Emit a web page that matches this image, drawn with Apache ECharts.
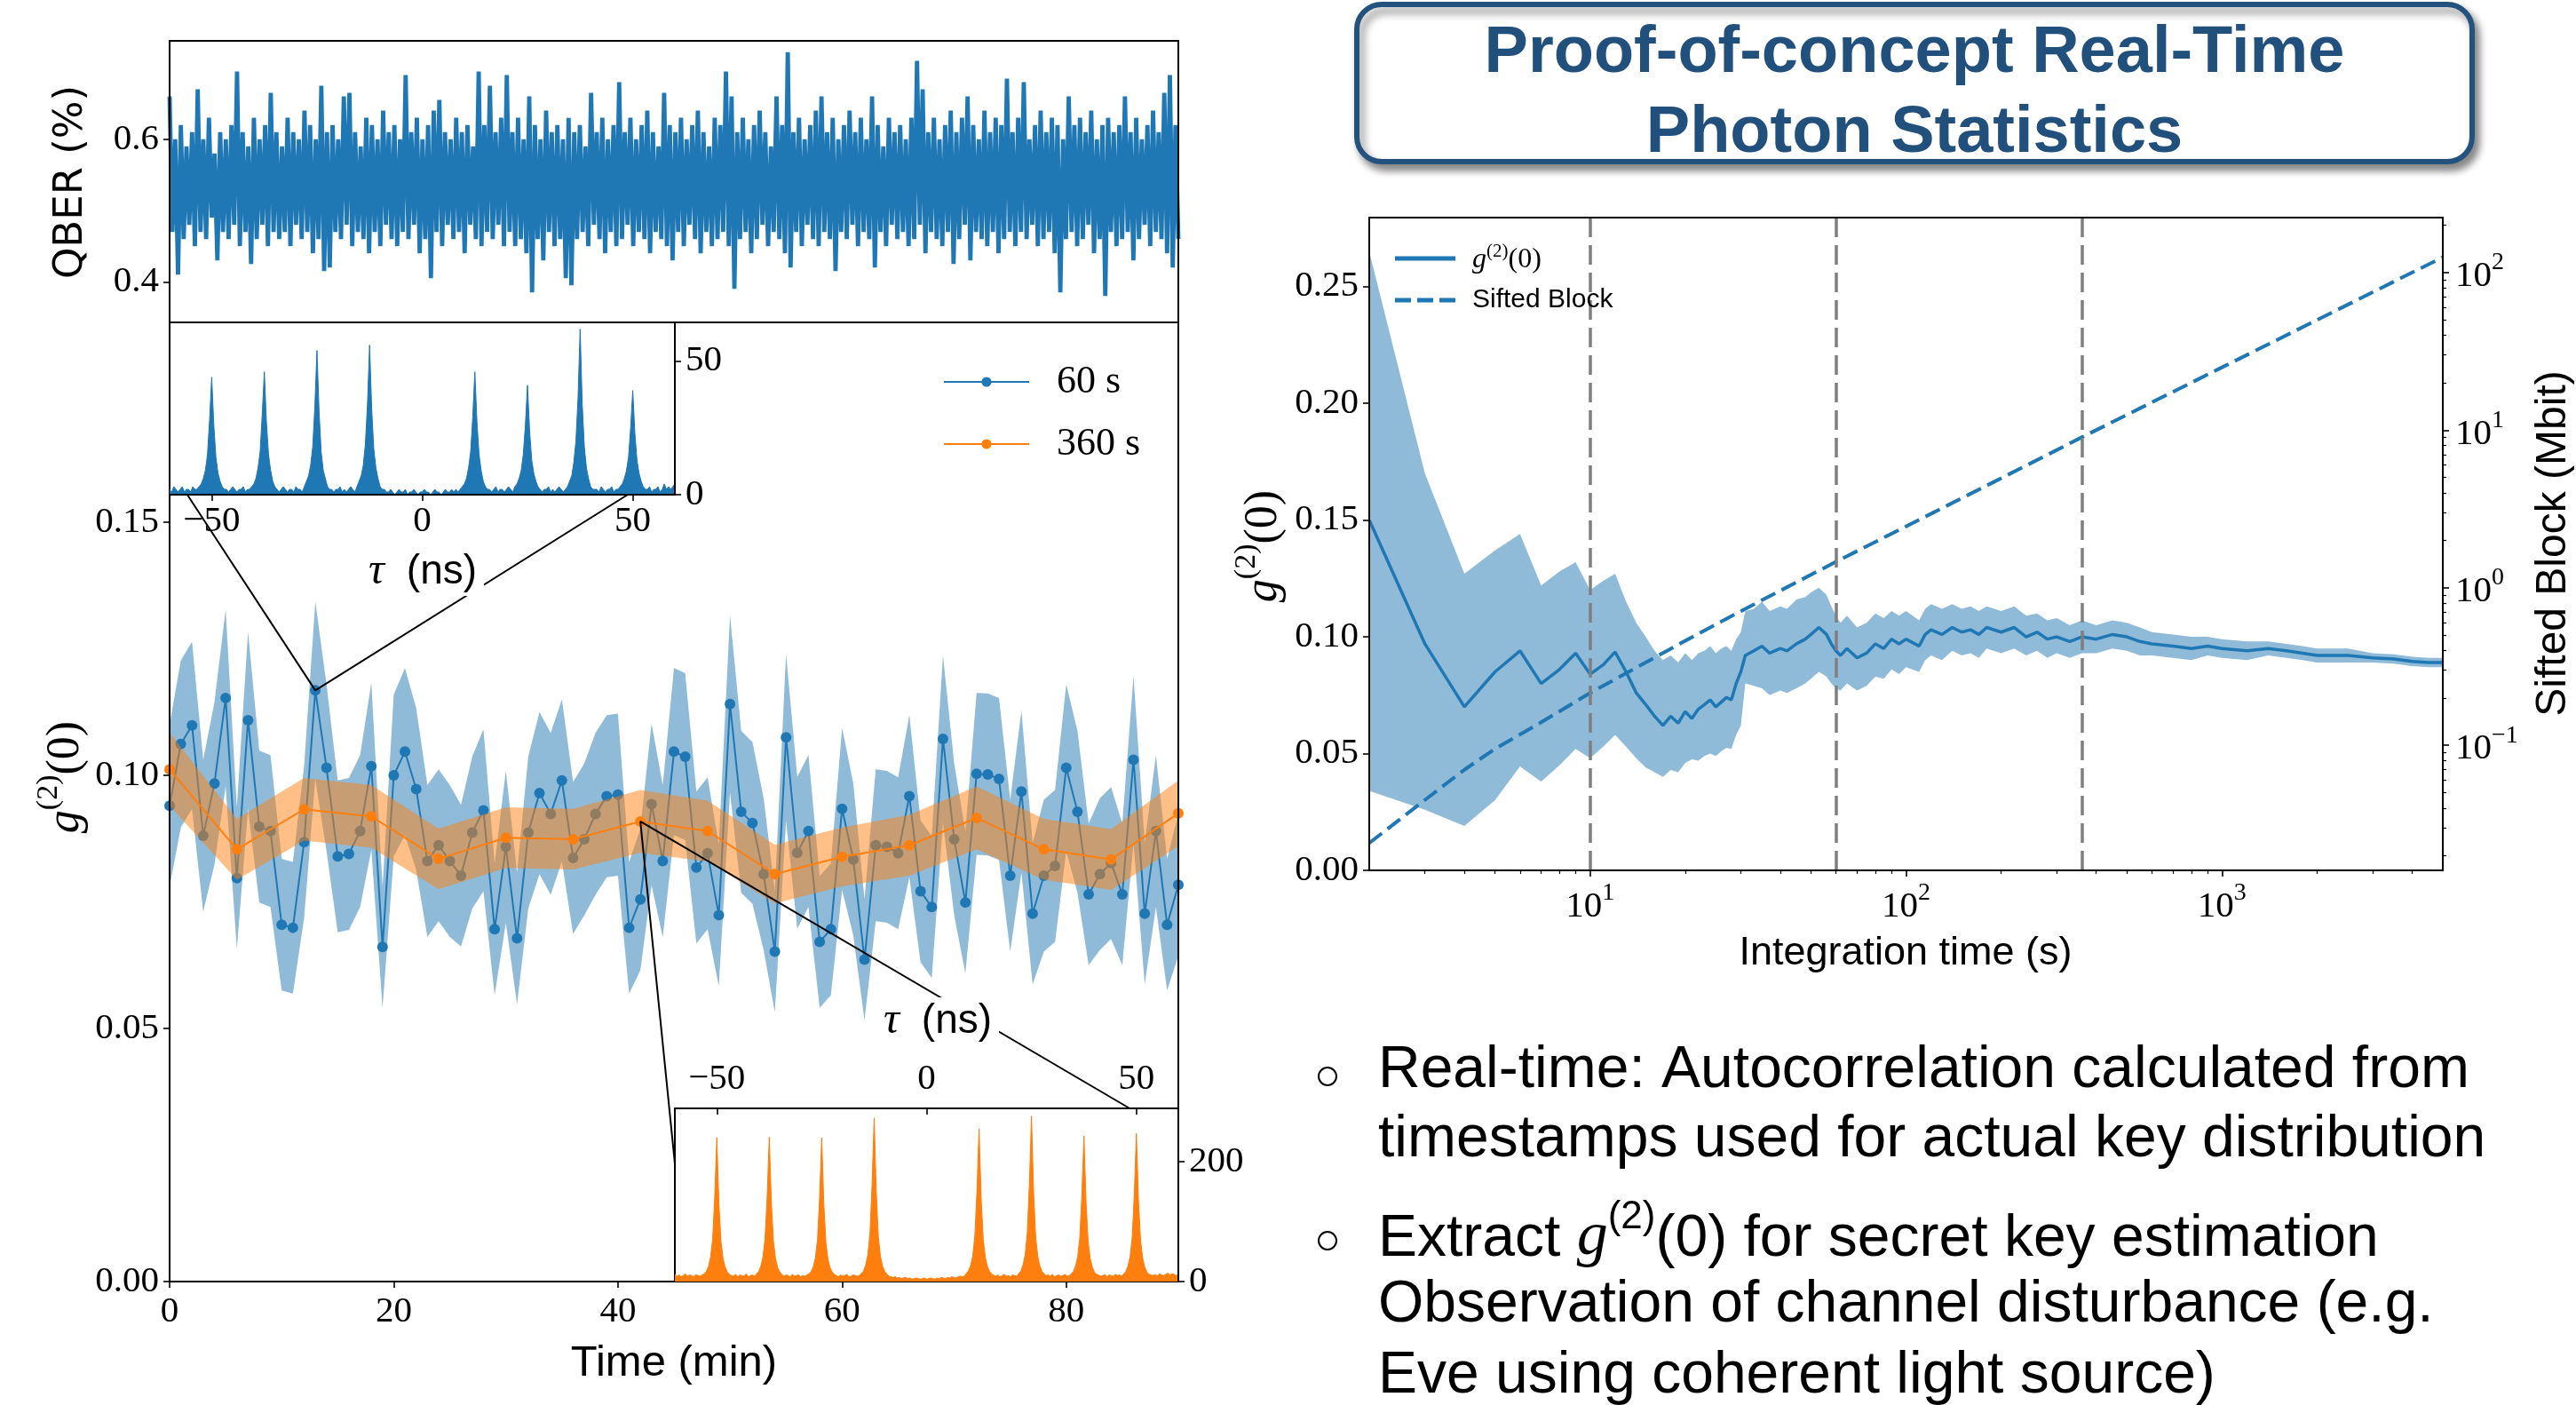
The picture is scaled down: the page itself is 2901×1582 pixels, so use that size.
<!DOCTYPE html>
<html><head><meta charset="utf-8">
<script src="https://cdn.jsdelivr.net/npm/echarts@6/dist/echarts.min.js"></script>
<style>html,body{margin:0;padding:0;background:#fff;}#c{width:2901px;height:1582px;}</style>
</head><body><div id="c"></div>
<script>
// ---------------- DATA ----------------
const qberValues = [
0.66,0.47,0.60,0.41,0.62,0.46,0.59,0.48,0.61,0.45,0.67,0.47,0.60,0.46,0.63,0.49,0.58,0.43,0.61,0.47,
0.60,0.46,0.62,0.48,0.695,0.45,0.61,0.47,0.59,0.425,0.63,0.46,0.60,0.48,0.62,0.45,0.665,0.47,0.61,0.46,
0.59,0.47,0.63,0.45,0.61,0.48,0.60,0.46,0.64,0.47,0.62,0.44,0.60,0.46,0.675,0.415,0.61,0.42,0.62,0.47,
0.60,0.46,0.66,0.48,0.665,0.45,0.61,0.47,0.59,0.46,0.63,0.44,0.62,0.47,0.60,0.45,0.64,0.48,0.61,0.46,
0.62,0.45,0.60,0.47,0.69,0.46,0.61,0.48,0.63,0.44,0.60,0.46,0.62,0.405,0.64,0.47,0.655,0.45,0.61,0.48,
0.60,0.46,0.63,0.47,0.61,0.44,0.62,0.48,0.59,0.46,0.695,0.45,0.62,0.47,0.675,0.46,0.61,0.48,0.63,0.45,
0.69,0.47,0.61,0.45,0.63,0.46,0.60,0.44,0.66,0.385,0.62,0.46,0.60,0.43,0.64,0.47,0.61,0.45,0.62,0.46,
0.60,0.405,0.63,0.395,0.61,0.46,0.62,0.47,0.59,0.45,0.665,0.48,0.61,0.46,0.63,0.44,0.60,0.47,0.62,0.45,
0.68,0.46,0.61,0.48,0.63,0.45,0.60,0.47,0.62,0.46,0.64,0.44,0.61,0.47,0.59,0.46,0.665,0.45,0.62,0.43,
0.61,0.47,0.63,0.45,0.60,0.48,0.62,0.46,0.64,0.44,0.61,0.47,0.59,0.45,0.63,0.46,0.62,0.47,0.695,0.45,
0.66,0.39,0.61,0.46,0.63,0.47,0.60,0.44,0.62,0.46,0.64,0.48,0.61,0.45,0.59,0.47,0.66,0.46,0.62,0.44,
0.722,0.42,0.61,0.47,0.63,0.45,0.60,0.48,0.62,0.46,0.64,0.45,0.66,0.47,0.61,0.46,0.63,0.415,0.60,0.47,
0.62,0.46,0.64,0.48,0.61,0.45,0.63,0.47,0.60,0.46,0.66,0.42,0.62,0.47,0.59,0.45,0.63,0.48,0.61,0.46,
0.62,0.47,0.60,0.45,0.63,0.46,0.71,0.48,0.67,0.44,0.61,0.47,0.63,0.46,0.60,0.45,0.62,0.47,0.64,0.425,
0.61,0.46,0.63,0.48,0.66,0.43,0.62,0.47,0.60,0.46,0.64,0.45,0.61,0.47,0.63,0.44,0.62,0.46,0.685,0.47,
0.61,0.45,0.63,0.47,0.68,0.46,0.60,0.48,0.62,0.45,0.64,0.46,0.61,0.47,0.63,0.44,0.62,0.385,0.60,0.46,
0.66,0.47,0.62,0.45,0.63,0.46,0.61,0.48,0.64,0.44,0.60,0.46,0.62,0.38,0.63,0.47,0.61,0.45,0.62,0.46,
0.66,0.47,0.61,0.43,0.63,0.46,0.60,0.48,0.62,0.45,0.64,0.47,0.61,0.46,0.665,0.44,0.69,0.42,0.62,0.46
];

const time60 = [0,1,2,3,4,5,6,7,8,9,10,11,12,13,14,15,16,17,18,19,20,21,22,23,24,25,26,27,28,29,30,
31,32,33,34,35,36,37,38,39,40,41,42,43,44,45,46,47,48,49,50,51,52,53,54,55,56,57,58,59,60,
61,62,63,64,65,66,67,68,69,70,71,72,73,74,75,76,77,78,79,80,81,82,83,84,85,86,87,88,89,90];
const g2_60 = [0.0940,0.1062,0.1099,0.0881,0.0984,0.1153,0.0797,0.1109,0.0899,0.0890,
0.0705,0.0699,0.0868,0.1168,0.1015,0.0840,0.0845,0.0890,0.1018,0.0661,
0.1000,0.1047,0.0973,0.0831,0.0862,0.0831,0.0802,0.0887,0.0931,0.0696,
0.0859,0.0678,0.0887,0.0965,0.0924,0.0990,0.0837,0.0874,0.0924,0.0959,
0.0962,0.0699,0.0755,0.0943,0.0831,0.1047,0.1037,0.0818,0.0846,0.0724,
0.1141,0.0928,0.0906,0.0805,0.0652,0.1075,0.0847,0.0890,0.0671,0.0696,
0.0934,0.0834,0.0636,0.0862,0.0859,0.0846,0.0959,0.0771,0.0740,0.1072,
0.0874,0.0749,0.1003,0.1002,0.0993,0.0802,0.0968,0.0727,0.0802,0.0821,
0.1015,0.0928,0.0765,0.0805,0.0827,0.0765,0.1031,0.0727,0.0890,0.0705,0.0784];
const g2_60_err = [0.016,0.0165,0.0165,0.015,0.016,0.0175,0.014,0.0175,0.015,0.015,
0.013,0.013,0.015,0.0175,0.0165,0.015,0.015,0.015,0.0165,0.012,
0.016,0.0165,0.016,0.015,0.015,0.015,0.014,0.015,0.016,0.013,
0.015,0.013,0.015,0.016,0.016,0.016,0.015,0.015,0.016,0.016,
0.016,0.013,0.014,0.016,0.015,0.0165,0.0165,0.015,0.015,0.014,
0.0175,0.016,0.016,0.015,0.012,0.0165,0.015,0.015,0.013,0.013,
0.016,0.015,0.012,0.015,0.015,0.015,0.016,0.014,0.014,0.0165,
0.015,0.014,0.016,0.016,0.016,0.015,0.016,0.014,0.015,0.015,
0.0165,0.016,0.014,0.015,0.015,0.014,0.0165,0.014,0.015,0.013,0.014];

const time360 = [0,6,12,18,24,30,36,42,48,54,60,66,72,78,84,90];
const g2_360 = [0.1012,0.0854,0.0933,0.0919,0.0835,0.0877,0.0874,0.0909,0.0890,0.0805,0.0839,0.0862,0.0916,0.0854,0.0834,0.0925];
const g2_360_err = [0.0072,0.006,0.0062,0.0062,0.006,0.006,0.006,0.0062,0.006,0.0058,0.0058,0.006,0.0062,0.006,0.006,0.0065];

// coincidence histograms, 0.5 ns bins starting at -60 ns
const tauStart = -60, tauStep = 0.5;
const hist60 = [
2,1,3,2,1,2,3,1,2,2,1,3,2,2,
3,4,6,9,15,28,44,26,14,8,5,3,2,
2,1,2,3,2,1,2,2,3,1,2,2,
3,4,6,10,16,30,46,27,15,9,5,3,2,
1,2,3,2,1,2,2,1,3,2,2,1,
3,5,7,11,18,33,54,31,16,9,6,3,2,
2,1,2,2,3,1,2,1,2,3,2,1,
3,5,7,11,19,34,56,32,17,10,6,3,2,
2,1,1,2,1,0,1,2,1,1,2,0,1,1,2,1,0,1,1,2,1,1,0,1,2,1,1,0,1,2,1,1,2,1,2,1,2,
3,4,6,10,16,29,46,27,15,9,5,3,2,
2,1,2,3,1,2,2,1,2,3,2,1,
3,4,6,9,15,26,41,24,13,8,5,3,2,
1,2,2,3,1,2,1,2,3,2,1,2,
3,5,7,12,20,36,62,34,18,10,6,3,2,
2,2,1,3,2,1,2,2,3,1,2,2,
3,4,6,9,14,25,39,23,13,8,5,3,2,
2,3,1,2,2,3,1,2,4,2,3,2,3,4];
const hist360 = [
12,9,11,8,10,13,9,11,10,8,12,10,9,11,
13,17,25,40,70,140,240,130,66,38,24,16,12,
10,9,12,8,11,10,9,13,8,10,11,9,
13,17,26,41,72,142,241,132,67,38,23,16,12,
9,11,10,8,12,9,10,11,8,10,9,11,
13,17,25,40,70,140,240,130,65,37,23,16,12,
10,8,11,9,10,12,8,9,11,10,9,10,
14,18,28,45,80,160,273,150,75,42,26,17,13,
9,8,7,8,6,7,5,6,7,5,6,4,5,6,5,4,5,6,4,5,6,5,4,6,5,7,6,5,7,6,8,7,6,8,9,8,9,
14,18,27,43,76,150,255,140,70,40,25,17,13,
10,9,11,8,10,12,9,10,8,11,10,9,
14,18,28,45,81,162,276,150,74,42,26,17,13,
10,11,9,12,8,10,11,9,10,12,9,10,
13,17,26,41,72,143,243,133,67,38,24,16,12,
11,9,10,12,8,11,10,9,12,10,11,9,
13,17,26,41,73,145,247,135,68,39,24,16,12,
11,10,12,9,13,11,10,12,14,11,13,12,10,13];

// right panel: g2 vs integration time
const intTime = [2,3,4,5,6,7,8,9,10,11,12,13,14,15,16,17,18,19,20,21,22,23,24,25,26,27,28,29,30,31,
33,35,37,40,42,45,48,50,53,56,58,60,62,65,70,75,80,85,90,95,100,
110,115,120,130,140,150,160,170,180,200,220,240,260,280,300,330,360,
400,450,500,550,600,700,800,900,1000,
1200,1400,1600,1800,2000,2500,3000,3500,4000,4500,5000];
const g2Mean = [0.150,0.097,0.070,0.085,0.094,0.080,0.086,0.093,0.084,0.088,0.0935,0.085,0.076,0.071,0.066,0.062,0.066,0.063,0.068,0.065,0.069,0.071,0.073,0.070,0.072,0.074,0.073,0.080,0.085,0.092,
0.094,0.096,0.093,0.095,0.094,0.097,0.099,0.101,0.104,0.101,0.097,0.094,0.092,0.095,0.091,0.093,0.097,0.095,0.099,0.097,0.099,
0.096,0.101,0.103,0.101,0.104,0.102,0.103,0.101,0.104,0.102,0.104,0.100,0.102,0.099,0.100,0.098,0.100,
0.099,0.101,0.100,0.098,0.097,0.096,0.095,0.096,0.095,
0.094,0.095,0.094,0.093,0.092,0.092,0.091,0.0905,0.0895,0.089,0.089];
const g2High = [0.265,0.170,0.127,0.137,0.144,0.122,0.128,0.132,0.120,0.124,0.127,0.115,0.106,0.100,0.094,0.090,0.092,0.089,0.093,0.090,0.093,0.094,0.096,0.093,0.095,0.096,0.094,0.099,0.102,0.111,
0.112,0.115,0.111,0.113,0.112,0.116,0.117,0.119,0.121,0.118,0.113,0.109,0.106,0.109,0.104,0.106,0.110,0.108,0.111,0.109,0.111,
0.107,0.112,0.114,0.112,0.114,0.112,0.113,0.111,0.113,0.111,0.113,0.109,0.110,0.107,0.108,0.105,0.107,
0.105,0.107,0.106,0.104,0.102,0.101,0.100,0.100,0.099,
0.098,0.098,0.097,0.096,0.095,0.095,0.093,0.0925,0.0915,0.091,0.091];
const g2Low = [0.034,0.026,0.019,0.030,0.0445,0.038,0.045,0.052,0.048,0.053,0.058,0.053,0.048,0.044,0.042,0.040,0.043,0.042,0.046,0.0475,0.047,0.049,0.050,0.049,0.051,0.0525,0.052,0.058,0.062,0.080,
0.079,0.078,0.075,0.077,0.076,0.078,0.080,0.082,0.085,0.083,0.080,0.078,0.077,0.080,0.077,0.079,0.083,0.082,0.086,0.084,0.087,
0.085,0.090,0.092,0.090,0.094,0.092,0.093,0.091,0.095,0.093,0.095,0.092,0.094,0.091,0.093,0.091,0.093,
0.093,0.095,0.094,0.092,0.092,0.091,0.090,0.092,0.091,
0.090,0.092,0.091,0.090,0.089,0.089,0.089,0.0885,0.0875,0.087,0.087];
const siftTime = [2,3,4,5,7,10,20,30,60,100,200,360,1000,2000,5000];
const siftBlock = [0.024,0.045,0.07,0.095,0.14,0.215,0.46,0.71,1.46,2.45,4.95,9.0,25,50,125];
const markerTimes = [10,60,360];

// tick values
const qberTicks = [0.4,0.6];
const timeTicks = [0,20,40,60,80];
const g2Ticks = [0,0.05,0.10,0.15];
const tauTicks = [-50,0,50];
const hist60Ticks = [0,50];
const hist360Ticks = [0,200];
const intTicks = [10,100,1000];
const intMinorTicks = [3,4,5,6,7,8,9,20,30,40,50,60,70,80,90,200,300,400,500,600,700,800,900,2000,3000,4000];
const g2RightTicks = [0,0.05,0.10,0.15,0.20,0.25];
const siftTicks = [0.1,1,10,100];
const siftMinorTicks = [0.02,0.03,0.04,0.05,0.06,0.07,0.08,0.09,0.2,0.3,0.4,0.5,0.6,0.7,0.8,0.9,2,3,4,5,6,7,8,9,20,30,40,50,60,70,80,90,200];

// ---------------- CHART ----------------
const SERIF = "'Liberation Serif','DejaVu Serif',serif";
const SANS = "'Liberation Sans','DejaVu Sans',sans-serif";
const BLUE = '#1f77b4', ORANGE = '#ff7f0e';
const chart = echarts.init(document.getElementById('c'), null, {width:2901, height:1582});

const tickFont = {fontFamily: SERIF, fontSize: 41, color: '#000'};
const minus = v => (v < 0 ? '\u2212' + Math.abs(v) : String(v));
const tickStyle = (vals, inside) => ({show:true, length:7, inside: !!inside, customValues: vals, lineStyle:{color:'#000', width:1.6}});
const powRich = {
  b:{fontFamily:SERIF, fontSize:41, lineHeight:50, verticalAlign:'bottom', color:'#000'},
  e:{fontFamily:SERIF, fontSize:28, lineHeight:30, verticalAlign:'top', color:'#000'}
};
const powFmt = v => { const e = Math.round(Math.log10(v)); return '{b|10}{e|' + (e < 0 ? '\u2212' + (-e) : e) + '}'; };
const axLine = {show:true, onZero:false, lineStyle:{color:'#000', width:2}};

function band(xs, lo, hi, xi, yi, color, z) {
  return {
    type:'custom', xAxisIndex:xi, yAxisIndex:yi, z:z, silent:true, clip:true,
    data:[[xs[0], lo[0]]],
    renderItem:(params, api) => {
      const pts = [];
      for (let i = 0; i < xs.length; i++) pts.push(api.coord([xs[i], hi[i]]));
      for (let i = xs.length - 1; i >= 0; i--) pts.push(api.coord([xs[i], lo[i]]));
      return {type:'polygon', shape:{points:pts}, style:{fill:color}};
    }
  };
}
const lo60 = g2_60.map((v,i)=>v - g2_60_err[i]), hi60 = g2_60.map((v,i)=>v + g2_60_err[i]);
const lo360 = g2_360.map((v,i)=>v - g2_360_err[i]), hi360 = g2_360.map((v,i)=>v + g2_360_err[i]);

const option = {
  animation:false,
  backgroundColor:'#fff',
  grid:[
    {left:191, top:46, width:1136, height:317, show:true, borderColor:'#000', borderWidth:2, backgroundColor:'transparent', z:10},
    {left:191, top:363, width:1136, height:1080, show:true, borderColor:'#000', borderWidth:2, backgroundColor:'transparent', z:10},
    {left:191, top:363, width:569, height:194, show:true, borderColor:'#000', borderWidth:2, backgroundColor:'#fff', z:12},
    {left:760, top:1248, width:567, height:195, show:true, borderColor:'#000', borderWidth:2, backgroundColor:'#fff', z:12},
    {left:1542, top:245, width:1209, height:735, show:true, borderColor:'#000', borderWidth:2, backgroundColor:'transparent', z:10}
  ],
  xAxis:[
    {gridIndex:0, type:'category', data:qberValues.map((_,i)=>i), boundaryGap:false, show:false},
    {gridIndex:1, type:'value', min:0, max:90, z:10, axisLine:{show:false}, splitLine:{show:false},
     axisTick:tickStyle(timeTicks), axisLabel:Object.assign({customValues:timeTicks, margin:14}, tickFont)},
    {gridIndex:2, type:'value', min:-60, max:60, z:16, position:'bottom', splitLine:{show:false},
     axisLine:axLine, axisTick:tickStyle(tauTicks), axisLabel:Object.assign({customValues:tauTicks, margin:10, formatter:minus}, tickFont)},
    {gridIndex:3, type:'value', min:-60, max:60, z:16, position:'top', splitLine:{show:false},
     axisLine:axLine, axisTick:tickStyle(tauTicks, true), axisLabel:Object.assign({customValues:tauTicks, margin:12, formatter:minus}, tickFont)},
    {gridIndex:4, type:'log', logBase:10, min:2, max:5000, z:10, axisLine:{show:false}, splitLine:{show:false},
     axisTick:tickStyle(intTicks), axisLabel:{customValues:intTicks, margin:12, formatter:powFmt, rich:powRich}},
    {gridIndex:4, type:'log', logBase:10, min:2, max:5000, z:10, position:'bottom', axisLine:{show:false}, splitLine:{show:false},
     axisTick:{show:true, length:4, customValues:intMinorTicks, lineStyle:{color:'#000', width:1.2}}, axisLabel:{show:false}}
  ],
  yAxis:[
    {gridIndex:0, type:'value', min:0.343, max:0.738, z:10, axisLine:{show:false}, splitLine:{show:false},
     axisTick:tickStyle(qberTicks), axisLabel:Object.assign({customValues:qberTicks, margin:12, formatter:v=>v.toFixed(1)}, tickFont)},
    {gridIndex:1, type:'value', min:0, max:0.1895, z:10, axisLine:{show:false}, splitLine:{show:false},
     axisTick:tickStyle(g2Ticks), axisLabel:Object.assign({customValues:g2Ticks, margin:12, formatter:v=>v.toFixed(2)}, tickFont)},
    {gridIndex:2, type:'value', min:0, max:64.5, z:16, position:'right', splitLine:{show:false},
     axisLine:axLine, axisTick:tickStyle(hist60Ticks), axisLabel:Object.assign({customValues:hist60Ticks, margin:12}, tickFont)},
    {gridIndex:3, type:'value', min:0, max:289, z:16, position:'right', splitLine:{show:false},
     axisLine:axLine, axisTick:tickStyle(hist360Ticks), axisLabel:Object.assign({customValues:hist360Ticks, margin:12}, tickFont)},
    {gridIndex:4, type:'value', min:0, max:0.2795, z:10, position:'left', axisLine:{show:false}, splitLine:{show:false},
     axisTick:tickStyle(g2RightTicks), axisLabel:Object.assign({customValues:g2RightTicks, margin:12, formatter:v=>v.toFixed(2)}, tickFont)},
    {gridIndex:4, type:'log', logBase:10, min:0.0161, max:223, z:10, position:'right', axisLine:{show:false}, splitLine:{show:false},
     axisTick:tickStyle(siftTicks), axisLabel:{customValues:siftTicks, margin:14, formatter:powFmt, rich:powRich}},
    {gridIndex:4, type:'log', logBase:10, min:0.0161, max:223, z:10, position:'right', axisLine:{show:false}, splitLine:{show:false},
     axisTick:{show:true, length:4, customValues:siftMinorTicks, lineStyle:{color:'#000', width:1.2}}, axisLabel:{show:false}}
  ],
  legend:[
    {data:['60 s','360 s'], orient:'vertical', left:1057, top:400, itemWidth:96, itemHeight:14, itemGap:20, z:20,
     textStyle:{fontFamily:SERIF, fontSize:44, color:'#000', lineHeight:50, padding:[0,0,0,26]}},
    {data:[{name:'g2', icon:'path://M0,0h68v5h-68z'}, {name:'Sifted Block', icon:'path://M0,0h18v5h-18z M25,0h18v5h-18z M50,0h18v5h-18z'}],
     orient:'vertical', left:1566, top:268, itemWidth:68, itemHeight:5, itemGap:14, z:20,
     formatter: n => n === 'g2' ? '{g|g}{s|(2)}{n|(0)}' : '{sb|Sifted Block}',
     textStyle:{color:'#000', padding:[0,0,0,14], rich:{
       g:{fontFamily:SERIF, fontStyle:'italic', fontSize:32, lineHeight:36, verticalAlign:'bottom'},
       s:{fontFamily:SERIF, fontSize:21, lineHeight:22, verticalAlign:'top'},
       n:{fontFamily:SERIF, fontSize:32, lineHeight:36, verticalAlign:'bottom'},
       sb:{fontFamily:SANS, fontSize:30, lineHeight:36}}}}
  ],
  series:[
    {type:'line', xAxisIndex:0, yAxisIndex:0, data:qberValues, showSymbol:false, symbol:'none', z:2,
     lineStyle:{color:BLUE, width:4.8, join:'miter'}, itemStyle:{color:BLUE}},
    band(time60, lo60, hi60, 1, 1, 'rgba(31,119,180,0.5)', 1),
    {name:'60 s', type:'line', xAxisIndex:1, yAxisIndex:1, data:time60.map((t,i)=>[t, g2_60[i]]), z:2,
     symbol:'circle', symbolSize:12, lineStyle:{color:BLUE, width:2}, itemStyle:{color:BLUE}},
    band(time360, lo360, hi360, 1, 1, 'rgba(255,127,14,0.5)', 3),
    {name:'360 s', type:'line', xAxisIndex:1, yAxisIndex:1, data:time360.map((t,i)=>[t, g2_360[i]]), z:4,
     symbol:'circle', symbolSize:12, lineStyle:{color:ORANGE, width:2}, itemStyle:{color:ORANGE}},
    {type:'line', xAxisIndex:2, yAxisIndex:2, z:14, symbol:'none', data:hist60.map((c,i)=>[tauStart + i*tauStep, c]),
     lineStyle:{color:BLUE, width:1}, areaStyle:{color:BLUE, opacity:1}},
    {type:'line', xAxisIndex:3, yAxisIndex:3, z:14, symbol:'none', data:hist360.map((c,i)=>[tauStart + i*tauStep, c]),
     lineStyle:{color:ORANGE, width:1}, areaStyle:{color:ORANGE, opacity:1}},
    band(intTime, g2Low, g2High, 4, 4, 'rgba(31,119,180,0.5)', 2),
    {name:'g2', type:'line', xAxisIndex:4, yAxisIndex:4, z:3, symbol:'none', data:intTime.map((t,i)=>[t, g2Mean[i]]),
     lineStyle:{color:BLUE, width:3.5}, itemStyle:{color:BLUE},
     markLine:{silent:true, symbol:'none', label:{show:false}, lineStyle:{color:'#7f7f7f', type:[22,9], width:3.5},
       data:markerTimes.map(v=>({xAxis:v}))}},
    {name:'Sifted Block', type:'line', xAxisIndex:4, yAxisIndex:5, z:3, symbol:'none', data:siftTime.map((t,i)=>[t, siftBlock[i]]),
     lineStyle:{color:BLUE, width:4, type:[18,8]}, itemStyle:{color:BLUE}}
  ]
};
chart.setOption(option);

// ---------------- ANNOTATIONS ----------------
const gRich = (fs, sfs) => ({
  g:{fontFamily:SERIF, fontStyle:'italic', fontSize:fs, lineHeight:fs+10, verticalAlign:'bottom', color:'#000'},
  s:{fontFamily:SERIF, fontSize:sfs, lineHeight:sfs+2, verticalAlign:'top', color:'#000'},
  n:{fontFamily:SERIF, fontSize:fs, lineHeight:fs+10, verticalAlign:'bottom', color:'#000'}
});
const tauRich = {
  t:{fontFamily:SERIF, fontStyle:'italic', fontSize:50, color:'#000'},
  n:{fontFamily:SANS, fontSize:46, color:'#000'}
};
const pA = chart.convertToPixel({gridIndex:1}, [time60[13], g2_60[13]]);
const pL = chart.convertToPixel({gridIndex:2}, [-55.8, 0]);
const pR = chart.convertToPixel({gridIndex:2}, [48.8, 0]);
const pB = chart.convertToPixel({gridIndex:1}, [time360[7], g2_360[7]]);
const pBL = chart.convertToPixel({gridIndex:3}, [-60, 197]);
const pBR = chart.convertToPixel({gridIndex:3}, [48.4, 289]);
const ln = (a, b) => ({type:'line', z:11, shape:{x1:a[0], y1:a[1], x2:b[0], y2:b[1]}, style:{stroke:'#000', lineWidth:2}});

const graphics = [
  ln(pA, pL), ln(pA, pR), ln(pB, pBL), ln(pB, pBR),
  {type:'text', z:18, x:476, y:644, style:{text:'{t|\u03c4\u2002}{n|(ns)}', rich:tauRich, align:'center', verticalAlign:'middle', backgroundColor:'#fff', padding:[2,8]}},
  {type:'text', z:18, x:1056, y:1150, style:{text:'{t|\u03c4\u2002}{n|(ns)}', rich:tauRich, align:'center', verticalAlign:'middle', backgroundColor:'#fff', padding:[2,8]}},
  // axis titles
  {type:'text', z:18, x:80, y:205, rotation:Math.PI/2, style:{text:'QBER (%)', font:"45px 'DejaVu Sans'", fill:'#000', align:'center', verticalAlign:'middle'}},
  {type:'text', z:18, x:69, y:875, rotation:Math.PI/2, style:{text:'{g|g}{s|(2)}{n|(0)}', rich:gRich(52,34), align:'center', verticalAlign:'middle'}},
  {type:'text', z:18, x:759, y:1535, style:{text:'Time (min)', font:"49px 'Liberation Sans'", fill:'#000', align:'center', verticalAlign:'middle'}},
  {type:'text', z:18, x:1418, y:615, rotation:Math.PI/2, style:{text:'{g|g}{s|(2)}{n|(0)}', rich:gRich(52,34), align:'center', verticalAlign:'middle'}},
  {type:'text', z:18, x:2146, y:1074, style:{text:'Integration time (s)', font:"45px 'Liberation Sans'", fill:'#000', align:'center', verticalAlign:'middle'}},
  {type:'text', z:18, x:2876, y:612, rotation:Math.PI/2, style:{text:'Sifted Block (Mbit)', font:"48px 'Liberation Sans'", fill:'#000', align:'center', verticalAlign:'middle'}},
  // title box
  {type:'rect', z:20, shape:{x:1528, y:5, width:1256, height:177, r:28},
   style:{fill:'#fff', stroke:'#24527f', lineWidth:6, shadowBlur:10, shadowOffsetX:5, shadowOffsetY:7, shadowColor:'rgba(0,0,0,0.45)'}},
  {type:'text', z:21, x:2156, y:61, style:{text:'Proof-of-concept Real-Time', font:"bold 74px 'Liberation Sans'", fill:'#21507c', align:'center', verticalAlign:'middle'}},
  {type:'text', z:21, x:2156, y:151, style:{text:'Photon Statistics', font:"bold 74px 'Liberation Sans'", fill:'#21507c', align:'center', verticalAlign:'middle'}},
  // bullets
  {type:'circle', z:20, shape:{cx:1495, cy:1212, r:10}, style:{fill:'none', stroke:'#000', lineWidth:2}},
  {type:'circle', z:20, shape:{cx:1495, cy:1397, r:10}, style:{fill:'none', stroke:'#000', lineWidth:2}},
  {type:'text', z:20, x:1552, y:1206, style:{text:'Real-time: Autocorrelation calculated from', font:"66px 'Liberation Sans'", fill:'#000', verticalAlign:'middle'}},
  {type:'text', z:20, x:1552, y:1284, style:{text:'timestamps used for actual key distribution', font:"66px 'Liberation Sans'", fill:'#000', verticalAlign:'middle'}},
  {type:'text', z:20, x:1552, y:1389, style:{text:'{t|Extract }{g|g}{s|(2)}{t|(0) for secret key estimation}', verticalAlign:'middle',
    rich:{t:{fontFamily:SANS, fontSize:66, lineHeight:80, verticalAlign:'bottom', color:'#000'},
          g:{fontFamily:SERIF, fontStyle:'italic', fontSize:70, lineHeight:80, verticalAlign:'bottom', color:'#000'},
          s:{fontFamily:SANS, fontSize:44, lineHeight:48, verticalAlign:'top', color:'#000'}}}},
  {type:'text', z:20, x:1552, y:1470, style:{text:'Observation of channel disturbance (e.g.', font:"66px 'Liberation Sans'", fill:'#000', verticalAlign:'middle'}},
  {type:'text', z:20, x:1552, y:1550, style:{text:'Eve using coherent light source)', font:"66px 'Liberation Sans'", fill:'#000', verticalAlign:'middle'}}
];
chart.setOption({graphic: graphics});
</script>
</body></html>
